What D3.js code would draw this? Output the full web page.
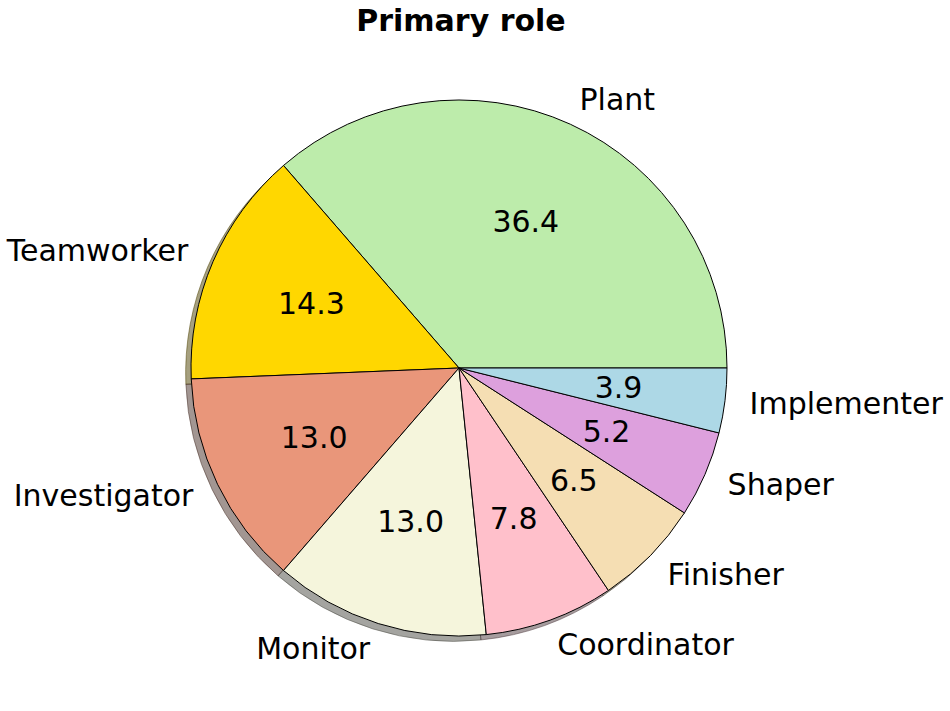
<!DOCTYPE html>
<html><head><meta charset="utf-8">
<script src="https://cdn.jsdelivr.net/npm/d3@7"></script>
<style>body{margin:0;background:#fff}svg{display:block}</style>
</head><body>
<svg id="c" width="950" height="711"></svg>
<script>
const categories = ["Plant","Teamworker","Investigator","Monitor","Coordinator","Finisher","Shaper","Implementer"];
const counts = [28, 11, 10, 10, 6, 5, 4, 3];
const colors = ["#bdecab","#ffd700","#e9967a","#f5f5dc","#ffc0cb","#f5deb3","#dda0dd","#add8e6"];
const title = "Primary role";

const W = 950, H = 711, cx = 459, cy = 368, R = 268;
const FS = 30;
const svg = d3.select("#c");
const font = "DejaVu Sans, sans-serif";
const total = d3.sum(counts);
const data = categories.map((c,i)=>({name:c, value:counts[i], color:colors[i]}));
const pie = d3.pie().value(d=>d.value).sort(null).startAngle(Math.PI/2).endAngle(Math.PI/2 - 2*Math.PI);
const arcs = pie(data);
const arc = d3.arc().innerRadius(0).outerRadius(R);

const g = svg.append("g").attr("transform", `translate(${cx},${cy})`);
// shadows
const sh = g.append("g").attr("transform", `translate(${-0.02*R},${0.02*R})`);
const shade = d=>{const c=d3.rgb(d.data.color); return d3.rgb(c.r*0.3,c.g*0.3,c.b*0.3).toString();};
sh.selectAll("path").data(arcs).join("path")
  .attr("d", arc)
  .attr("fill", shade).attr("fill-opacity",0.5)
  .attr("stroke", shade).attr("stroke-opacity",0.5)
  .attr("stroke-width",1);
g.selectAll("path.w").data(arcs).join("path").attr("class","w")
  .attr("d", arc)
  .attr("fill", d=>d.data.color)
  .attr("stroke","#000").attr("stroke-width",1).attr("stroke-linejoin","round");

function mid(d){ return (d.startAngle + d.endAngle)/2; }
g.selectAll("text.lab").data(arcs).join("text").attr("class","lab")
  .attr("x", d=>1.1*R*Math.sin(mid(d)) + (Math.sin(mid(d))>0 ? -2 : 0))
  .attr("y", d=>-1.1*R*Math.cos(mid(d)))
  .attr("dy","0.34em")
  .attr("text-anchor", d=>Math.sin(mid(d))>0?"start":"end")
  .attr("font-family",font).attr("font-size",FS).attr("fill","#000")
  .text(d=>d.data.name);
g.selectAll("text.pct").data(arcs).join("text").attr("class","pct")
  .attr("x", d=>0.6*R*Math.sin(mid(d)))
  .attr("y", d=>-0.6*R*Math.cos(mid(d)))
  .attr("dy","0.34em")
  .attr("text-anchor","middle")
  .attr("font-family",font).attr("font-size",FS).attr("fill","#000")
  .text(d=>(d.data.value/total*100).toFixed(1));

svg.append("text").attr("x",461).attr("y",31)
  .attr("text-anchor","middle").attr("font-family",font).attr("font-weight","bold")
  .attr("font-size",FS).text(title);
</script>
</body></html>
